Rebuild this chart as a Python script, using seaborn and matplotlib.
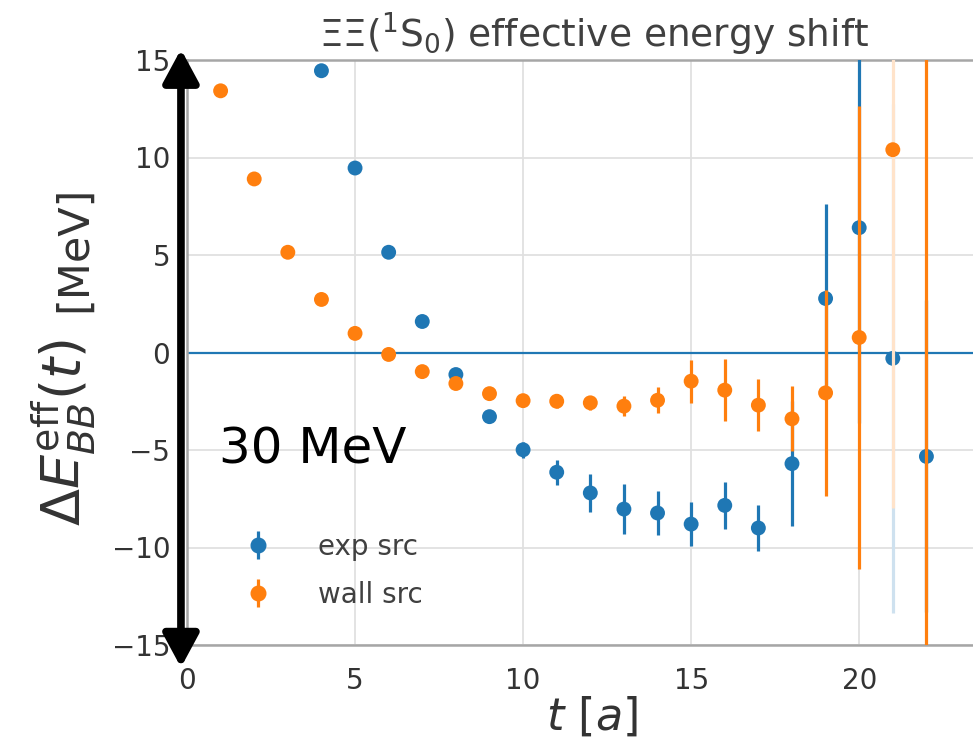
import numpy as np
import pandas as pd
import matplotlib
matplotlib.use("Agg")
import matplotlib.pyplot as plt
import matplotlib.colors as mcolors
import seaborn as sns

# ---- data ----
t_exp = [4, 5, 6, 7, 8, 9, 10, 11, 12, 13, 14, 15, 16, 17, 18, 19, 20, 21, 22]
e_exp = [14.45, 9.46, 5.14, 1.59, -1.13, -3.29, -4.99, -6.14, -7.2, -8.03, -8.23,
         -8.8, -7.84, -9.0, -5.7, 2.77, 6.4, -0.3, -5.33]
err_exp = [0.1, 0.1, 0.1, 0.1, 0.15, 0.25, 0.4, 0.64, 0.96, 1.28, 1.15,
           1.14, 1.2, 1.2, 3.2, 4.85, 10.0, 13.05, 8.0]

t_wall = [1, 2, 3, 4, 5, 6, 7, 8, 9, 10, 11, 12, 13, 14, 15, 16, 17, 18, 19, 20, 21, 22]
e_wall = [13.42, 8.9, 5.14, 2.72, 0.98, -0.1, -0.98, -1.59, -2.11, -2.47, -2.5,
          -2.58, -2.75, -2.45, -1.47, -1.93, -2.7, -3.4, -2.07, 0.77, 10.4, 18.0]
err_wall = [0.05, 0.05, 0.05, 0.1, 0.1, 0.1, 0.15, 0.2, 0.25, 0.3, 0.35,
            0.35, 0.5, 0.67, 1.1, 1.6, 1.33, 1.66, 5.3, 11.85, 18.35, 40.0]

series_labels = ["exp src", "wall src"]
x_ticks = [0, 5, 10, 15, 20]
y_ticks = [-15, -10, -5, 0, 5, 10, 15]
light_t = 21  # error bars drawn faintly at this t

sns.set_theme(style="whitegrid")
plt.rcParams["font.family"] = ["DejaVu Sans"]
plt.rcParams["mathtext.fontset"] = "dejavusans"

c_exp, c_wall = "#1f77b4", "#ff7f0e"


def lighten(c, f=0.22):
    r = np.array(mcolors.to_rgb(c))
    return tuple(1 - f * (1 - r))


W, H = 973, 753
fig = plt.figure(figsize=(W / 100, H / 100), dpi=100)
ax = fig.add_axes([187/W, 1 - 645/H, 810/W, (645 - 60)/H])

df_exp = pd.DataFrame({"t": t_exp, "E": e_exp, "err": err_exp})
df_wall = pd.DataFrame({"t": t_wall, "E": e_wall, "err": err_wall})

ax.axhline(0, color=c_exp, lw=1.6, zorder=2)

for df, c, z in [(df_exp, c_exp, 3), (df_wall, c_wall, 5)]:
    solid = df[df.t != light_t]
    faint = df[df.t == light_t]
    ax.errorbar(solid.t, solid.E, yerr=solid.err, fmt="none", ecolor=c,
                elinewidth=2.3, capsize=0, zorder=z)
    ax.errorbar(faint.t, faint.E, yerr=faint.err, fmt="none", ecolor=lighten(c),
                elinewidth=2.3, capsize=0, zorder=z)
    sns.scatterplot(data=df, x="t", y="E", color=c, s=115, edgecolor="none",
                    ax=ax, zorder=z + 1, legend=False)

# legend proxies
h1 = ax.errorbar([], [], yerr=[], fmt="o", color=c_exp, ms=10.5, elinewidth=2.3, label=series_labels[0])
h2 = ax.errorbar([], [], yerr=[], fmt="o", color=c_wall, ms=10.5, elinewidth=2.3, label=series_labels[1])
leg = ax.legend(handles=[h1, h2], loc="center left", bbox_to_anchor=(0.023, 0.127),
                frameon=False, fontsize=20, handletextpad=1.15, labelspacing=0.72,
                handlelength=2.0)
for tx in leg.get_texts():
    tx.set_color("0.25")

ax.set_xlim(0, 24.1)
ax.set_ylim(-15, 15)
ax.set_xticks(x_ticks)
ax.set_yticks(y_ticks)
ax.tick_params(axis="both", labelsize=20, colors="0.3", length=4, width=1,
               labelcolor="0.2", direction="out")
ax.tick_params(axis="x", pad=12)
ax.tick_params(axis="y", pad=8)
ax.grid(True, color="0.88", lw=1.3)
for s in ax.spines.values():
    s.set_color("0.65")
    s.set_linewidth(1.8)

ax.set_xlabel(r"$t\ [a]$", fontsize=32, color="0.2", labelpad=0)
ax.set_ylabel("")
# y label in two parts (math part drawn larger, as in the reference)
fig.text(98/W, 1 - 526/H, r"$\Delta E^{\rm eff}_{BB}(t)$", rotation=90,
         ha="right", va="bottom", fontsize=39, color="0.2")
fig.text(95/W, 1 - 186/H, "[MeV]", rotation=90, ha="right", va="top",
         fontsize=31, color="0.2")

fig.text(594/W, 1 - 47/H, r"$\Xi\Xi(^1\mathrm{S}_0)$ effective energy shift",
         ha="center", va="baseline", fontsize=27, color="0.25")

# black double arrow
ax.annotate("", xy=(-0.18, 15.55), xytext=(-0.18, -16.15),
            arrowprops=dict(arrowstyle="<|-|>,head_length=0.5,head_width=0.27",
                            lw=5.5, color="black", mutation_scale=40,
                            shrinkA=0, shrinkB=0),
            annotation_clip=False, zorder=10)
fig.text(219/W, 1 - 463/H, "30 MeV", fontsize=36, color="black",
         va="baseline")

fig.savefig("out.png", dpi=100)
